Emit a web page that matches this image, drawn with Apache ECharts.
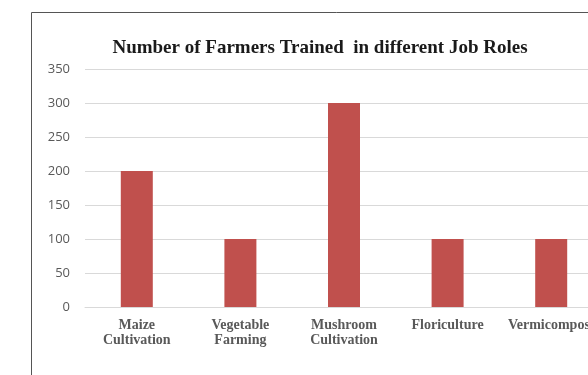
<!DOCTYPE html>
<html><head><meta charset="utf-8">
<script src="https://cdn.jsdelivr.net/npm/echarts@6/dist/echarts.min.js"></script>
<style>html,body{margin:0;padding:0;background:#fff;overflow:hidden}#c{width:640px;height:375px}</style>
</head><body><div id="c"></div>
<script>
var categories = ["Maize\nCultivation", "Vegetable\nFarming", "Mushroom\nCultivation", "Floriculture", "Vermicompost"];
var trained = [200, 100, 300, 100, 100];
var yTicks = [0, 50, 100, 150, 200, 250, 300, 350];

var chart = echarts.init(document.getElementById('c'), null, {renderer: 'canvas'});
chart.setOption({
  animation: false,
  title: {
    text: "Number of Farmers Trained  in different Job Roles",
    left: 315, top: 34, textAlign: 'center',
    textStyle: {fontFamily: 'Liberation Serif', fontWeight: 'bold', fontSize: 19, color: '#1a1a1a'}
  },
  graphic: [{
    type: 'rect', shape: {x: 31.5, y: 12.5, width: 700, height: 500},
    style: {fill: 'none', stroke: '#555', lineWidth: 1}, silent: true
  }],
  grid: {left: 85, right: 37, top: 69, bottom: 68},
  xAxis: {
    type: 'category', data: categories,
    axisLine: {show: true, lineStyle: {color: '#d9d9d9'}},
    axisTick: {show: false},
    axisLabel: {interval: 0, margin: 11, color: '#595959', fontFamily: 'Liberation Serif', fontWeight: 'bold', fontSize: 14, lineHeight: 15}
  },
  yAxis: {
    type: 'value', min: yTicks[0], max: yTicks[yTicks.length - 1], interval: 50,
    axisLine: {show: false}, axisTick: {show: false},
    splitLine: {lineStyle: {color: '#d9d9d9'}},
    axisLabel: {margin: 15, color: '#595959', fontFamily: 'Open Sans', fontSize: 13}
  },
  series: [{
    type: 'bar', data: trained, barWidth: 32,
    itemStyle: {color: '#C0504D'}
  }]
});
</script></body></html>
